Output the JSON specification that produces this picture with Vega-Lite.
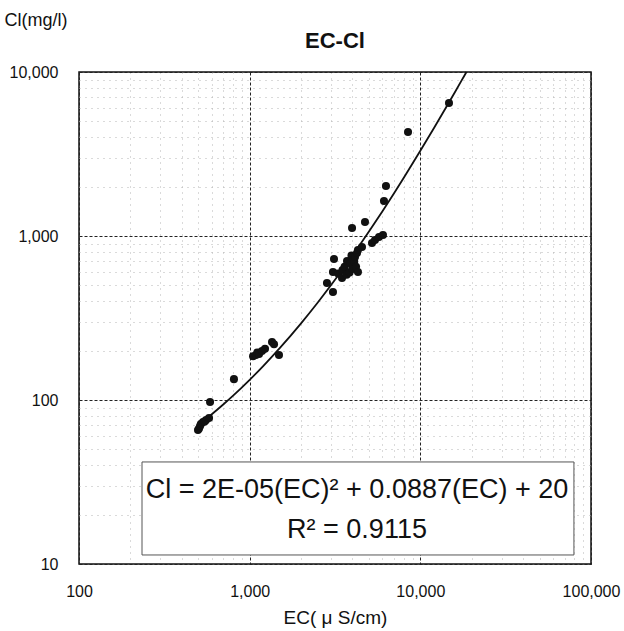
{
  "$schema": "https://vega.github.io/schema/vega-lite/v6.json",
  "autosize": {"type": "none"},
  "width": 512,
  "height": 492,
  "padding": {"left": 79, "top": 72, "right": 33, "bottom": 67},
  "background": "white",
  "config": {
    "view": {"stroke": "#111", "strokeWidth": 1.5},
    "font": "Liberation Sans"
  },
  "title": {"text": "EC-Cl", "fontSize": 22, "font": "Liberation Sans", "fontWeight": "bold", "color": "#111", "anchor": "middle", "frame": "group", "offset": -29, "dy": 23, "baseline": "middle"},
  "datasets": {
    "pts": [
      {"EC": 498, "Cl": 65.6}, {"EC": 505, "Cl": 67}, {"EC": 512, "Cl": 69.4}, {"EC": 518, "Cl": 71.4},
      {"EC": 533, "Cl": 73.4}, {"EC": 545, "Cl": 74}, {"EC": 555, "Cl": 75.5}, {"EC": 578, "Cl": 77.6},
      {"EC": 586, "Cl": 97.3}, {"EC": 809, "Cl": 134},
      {"EC": 1047, "Cl": 185}, {"EC": 1089, "Cl": 188}, {"EC": 1110, "Cl": 195}, {"EC": 1135, "Cl": 191},
      {"EC": 1181, "Cl": 199}, {"EC": 1230, "Cl": 205}, {"EC": 1352, "Cl": 226}, {"EC": 1389, "Cl": 219},
      {"EC": 1485, "Cl": 188},
      {"EC": 2838, "Cl": 517}, {"EC": 3077, "Cl": 456}, {"EC": 3077, "Cl": 603}, {"EC": 3120, "Cl": 724},
      {"EC": 3300, "Cl": 590}, {"EC": 3476, "Cl": 555}, {"EC": 3500, "Cl": 620}, {"EC": 3600, "Cl": 650},
      {"EC": 3700, "Cl": 580}, {"EC": 3720, "Cl": 704}, {"EC": 3850, "Cl": 600}, {"EC": 3900, "Cl": 680},
      {"EC": 3950, "Cl": 760}, {"EC": 4000, "Cl": 630}, {"EC": 4100, "Cl": 700}, {"EC": 4140, "Cl": 745},
      {"EC": 4200, "Cl": 650}, {"EC": 4255, "Cl": 788}, {"EC": 4310, "Cl": 603}, {"EC": 4310, "Cl": 822},
      {"EC": 4550, "Cl": 857}, {"EC": 5210, "Cl": 906}, {"EC": 5425, "Cl": 945}, {"EC": 5725, "Cl": 986},
      {"EC": 6040, "Cl": 1014}, {"EC": 3980, "Cl": 1119}, {"EC": 4740, "Cl": 1217}, {"EC": 6124, "Cl": 1634},
      {"EC": 6290, "Cl": 2017}, {"EC": 8470, "Cl": 4305}, {"EC": 14720, "Cl": 6471}
    ],
    "fit": [
      {"EC": 500, "Cl": 70.4}, {"EC": 600, "Cl": 81.9}, {"EC": 700, "Cl": 93.9}, {"EC": 800, "Cl": 106.3},
      {"EC": 1000, "Cl": 132.7}, {"EC": 1200, "Cl": 161}, {"EC": 1500, "Cl": 207.1}, {"EC": 2000, "Cl": 293.4},
      {"EC": 2500, "Cl": 391.8}, {"EC": 3000, "Cl": 502.1}, {"EC": 4000, "Cl": 758.8}, {"EC": 5000, "Cl": 1063.5},
      {"EC": 6000, "Cl": 1416}, {"EC": 7000, "Cl": 1817}, {"EC": 8000, "Cl": 2266}, {"EC": 10000, "Cl": 3307},
      {"EC": 12000, "Cl": 4540}, {"EC": 14000, "Cl": 5966}, {"EC": 16000, "Cl": 7583}, {"EC": 18000, "Cl": 9393},
      {"EC": 18630, "Cl": 10000}
    ],
    "eq": [
      {"line": "Cl = 2E-05(EC)² + 0.0887(EC) + 20", "EC": 4256, "Cl": 28.3},
      {"line": "R² = 0.9115", "EC": 4256, "Cl": 16.1}
    ]
  },
  "layer": [
    {
      "data": {"name": "pts"},
      "mark": {"type": "point", "filled": true, "color": "#111", "opacity": 0},
      "encoding": {
        "x": {
          "field": "EC", "type": "quantitative",
          "scale": {"type": "log", "domain": [100, 100000], "nice": false},
          "axis": {
            "title": "EC( μ S/cm)",
            "titleFont": "Liberation Sans", "titleFontSize": 19, "titleFontWeight": "normal", "titleColor": "#111",
            "titleBaseline": "middle", "titleY": 53,
            "values": [100, 200, 300, 400, 500, 600, 700, 800, 900, 1000, 2000, 3000, 4000, 5000, 6000, 7000, 8000, 9000, 10000, 20000, 30000, 40000, 50000, 60000, 70000, 80000, 90000, 100000],
            "labelExpr": "(datum.value == 100 || datum.value == 1000 || datum.value == 10000 || datum.value == 100000) ? format(datum.value, ',') : ''",
            "labelFontSize": 16, "labelColor": "#111", "labelPadding": 19, "labelOverlap": false, "labelFlush": false,
            "ticks": false, "domain": false,
            "gridColor": {"condition": {"test": "datum.value == 100 || datum.value == 1000 || datum.value == 10000 || datum.value == 100000", "value": "#222"}, "value": "#b5b5b5"},
            "gridDash": {"condition": {"test": "datum.value == 100 || datum.value == 1000 || datum.value == 10000 || datum.value == 100000", "value": [3, 2]}, "value": [1, 5]},
            "gridOpacity": 1, "gridWidth": 1
          }
        },
        "y": {
          "field": "Cl", "type": "quantitative",
          "scale": {"type": "log", "domain": [10, 10000], "nice": false},
          "axis": {
            "title": "Cl(mg/l)",
            "titleFont": "Liberation Sans", "titleFontSize": 18, "titleFontWeight": "normal", "titleColor": "#111",
            "titleAngle": 0, "titleAlign": "left", "titleBaseline": "middle", "titleX": -75, "titleY": -52,
            "values": [10, 20, 30, 40, 50, 60, 70, 80, 90, 100, 200, 300, 400, 500, 600, 700, 800, 900, 1000, 2000, 3000, 4000, 5000, 6000, 7000, 8000, 9000, 10000],
            "labelExpr": "(datum.value == 10 || datum.value == 100 || datum.value == 1000 || datum.value == 10000) ? format(datum.value, ',') : ''",
            "labelFontSize": 16, "labelColor": "#111", "labelPadding": 21, "labelOverlap": false, "labelFlush": false,
            "ticks": false, "domain": false,
            "gridColor": {"condition": {"test": "datum.value == 10 || datum.value == 100 || datum.value == 1000 || datum.value == 10000", "value": "#222"}, "value": "#b5b5b5"},
            "gridDash": {"condition": {"test": "datum.value == 10 || datum.value == 100 || datum.value == 1000 || datum.value == 10000", "value": [3, 2]}, "value": [1, 5]},
            "gridOpacity": 1, "gridWidth": 1
          }
        }
      }
    },
    {
      "data": {"values": [{"box": "legend"}]},
      "mark": {"type": "rect", "fill": "white", "stroke": "#555", "strokeWidth": 1},
      "encoding": {
        "x": {"datum": 234, "type": "quantitative"},
        "x2": {"datum": 79430},
        "y": {"datum": 41.9, "type": "quantitative"},
        "y2": {"datum": 11.35}
      }
    },
    {
      "data": {"name": "eq"},
      "mark": {"type": "text", "fontSize": 27, "font": "Liberation Sans", "color": "#111", "align": "center", "baseline": "middle"},
      "encoding": {
        "x": {"field": "EC", "type": "quantitative"},
        "y": {"field": "Cl", "type": "quantitative"},
        "text": {"field": "line"}
      }
    },
    {
      "data": {"name": "fit"},
      "mark": {"type": "line", "color": "#111", "strokeWidth": 1.8, "interpolate": "monotone"},
      "encoding": {
        "x": {"field": "EC", "type": "quantitative"},
        "y": {"field": "Cl", "type": "quantitative"}
      }
    },
    {
      "data": {"name": "pts"},
      "mark": {"type": "point", "filled": true, "color": "#111", "opacity": 1, "size": 65},
      "encoding": {
        "x": {"field": "EC", "type": "quantitative"},
        "y": {"field": "Cl", "type": "quantitative"}
      }
    }
  ]
}
